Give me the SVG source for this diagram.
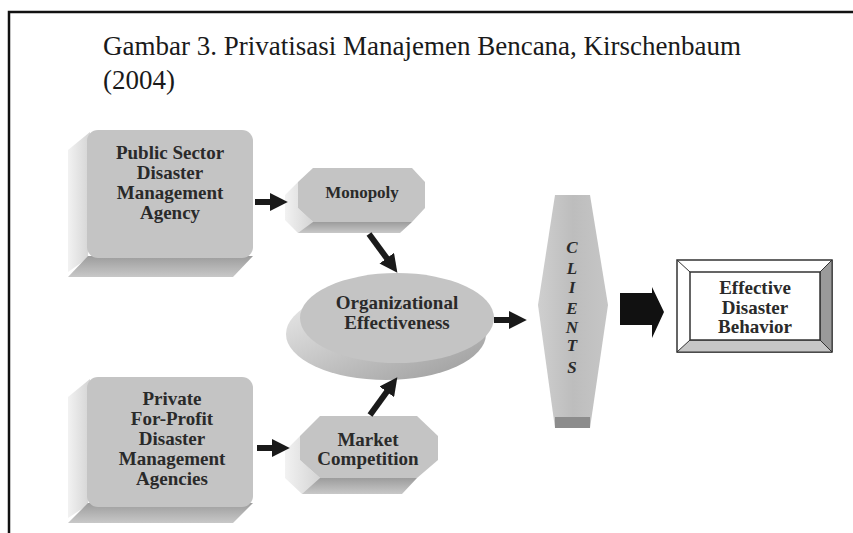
<svg xmlns="http://www.w3.org/2000/svg" width="853" height="533" viewBox="0 0 853 533">
<defs>
<style>
.lbl{font-family:"Liberation Serif","Times New Roman",serif;font-weight:bold;font-size:19px;fill:#2a2a2a;text-anchor:middle}
.face{fill:#c4c4c4}
.side{fill:url(#sideG)}
.bot{fill:url(#botG)}
.conn{stroke:#1a1a1a;stroke-width:6;fill:none;marker-end:url(#ah)}
.title{font-family:"Liberation Serif","Times New Roman",serif;font-size:27px;fill:#1a1a1a}
</style>
<linearGradient id="sideG" x1="0" y1="0" x2="1" y2="0">
<stop offset="0" stop-color="#f2f2f2"/><stop offset="1" stop-color="#d4d4d4"/>
</linearGradient>
<linearGradient id="botG" x1="0" y1="0" x2="0" y2="1">
<stop offset="0" stop-color="#9c9c9c"/><stop offset="1" stop-color="#c8c8c8"/>
</linearGradient>
<linearGradient id="diskG" x1="0" y1="0" x2="1" y2="1">
<stop offset="0" stop-color="#eeeeee"/><stop offset="0.45" stop-color="#c8c8c8"/><stop offset="1" stop-color="#9a9a9a"/>
</linearGradient>
<linearGradient id="cliG" x1="0" y1="0" x2="1" y2="0">
<stop offset="0" stop-color="#cfcfcf"/><stop offset="0.5" stop-color="#bdbdbd"/><stop offset="1" stop-color="#c6c6c6"/>
</linearGradient>
<marker id="ah" markerWidth="3" markerHeight="3" refX="1.2" refY="1.5" orient="auto" markerUnits="strokeWidth">
<path d="M0,0 L3,1.5 L0,3 z" fill="#1a1a1a"/>
</marker>
</defs>
<rect width="853" height="533" fill="#ffffff"/>
<path d="M9,533 V12 H853" fill="none" stroke="#111" stroke-width="2.5"/>
<text class="title" x="103" y="55">Gambar 3. Privatisasi Manajemen Bencana, Kirschenbaum</text>
<text class="title" x="103" y="89">(2004)</text>

<g id="public">
<path class="side" d="M90,132 L68,150 L68,272 L88,258 Z"/>
<path class="bot" d="M88,256 L253,256 L233,277 L68,277 Z"/>
<rect class="face" x="87" y="130" width="166" height="128" rx="11"/>
<text class="lbl" x="170" y="159">Public Sector</text>
<text class="lbl" x="170" y="179">Disaster</text>
<text class="lbl" x="170" y="199">Management</text>
<text class="lbl" x="170" y="219">Agency</text>
</g>

<g id="private">
<path class="side" d="M90,379 L68,397 L68,518 L88,505 Z"/>
<path class="bot" d="M88,503 L253,503 L233,523 L68,523 Z"/>
<rect class="face" x="87" y="377" width="166" height="130" rx="11"/>
<text class="lbl" x="172" y="405">Private</text>
<text class="lbl" x="172" y="425">For-Profit</text>
<text class="lbl" x="172" y="445">Disaster</text>
<text class="lbl" x="172" y="465">Management</text>
<text class="lbl" x="172" y="485">Agencies</text>
</g>

<g id="monopoly">
<path class="side" d="M298,182 L285,195 L285,220 L298,233 L310,233 L313,222 L298,208 Z"/>
<path class="bot" d="M313,222 L412,222 L400,233 L298,233 Z"/>
<polygon class="face" points="313,168 412,168 425,182 425,208 412,222 313,222 298,208 298,182"/>
<text class="lbl" x="362" y="198" style="font-size:17px">Monopoly</text>
</g>

<g id="market">
<path class="side" d="M300,436 L285,451 L285,478 L302,494 L318,494 L320,478 L300,460 Z"/>
<path class="bot" d="M320,478 L417,478 L402,494 L302,494 Z"/>
<polygon class="face" points="320,416 417,416 438,436 438,460 417,478 320,478 300,460 300,436"/>
<text class="lbl" x="368" y="446">Market</text>
<text class="lbl" x="368" y="465">Competition</text>
</g>

<g id="org">
<ellipse cx="386" cy="334" rx="100" ry="46" fill="url(#diskG)"/>
<ellipse cx="397" cy="318" rx="97" ry="45" class="face"/>
<text class="lbl" x="397" y="309">Organizational</text>
<text class="lbl" x="397" y="329">Effectiveness</text>
</g>

<g id="clients">
<polygon points="555,195 590,195 608,305 590,428 555,428 538,305" fill="url(#cliG)"/>
<rect x="555" y="417" width="35" height="11" fill="#8c8c8c"/>
<g class="lbl" style="font-style:italic;font-size:17px">
<text x="572" y="253">C</text>
<text x="572" y="274">L</text>
<text x="572" y="293">I</text>
<text x="572" y="314">E</text>
<text x="572" y="333">N</text>
<text x="572" y="351">T</text>
<text x="572" y="373">S</text>
</g>
</g>

<g id="behavior">
<rect x="677" y="260" width="155" height="92" fill="#ffffff" stroke="#333" stroke-width="1.5"/>
<polygon points="820,272 832,260 832,352 820,340" fill="#9a9a9a" stroke="#333" stroke-width="1"/>
<polygon points="690,340 820,340 832,352 677,352" fill="#c6c6c6" stroke="#333" stroke-width="1"/>
<line x1="677" y1="260" x2="690" y2="272" stroke="#333" stroke-width="1"/>
<rect x="690" y="272" width="130" height="68" fill="#ffffff" stroke="#333" stroke-width="1.5"/>
<text class="lbl" x="755" y="294">Effective</text>
<text class="lbl" x="755" y="314">Disaster</text>
<text class="lbl" x="755" y="333">Behavior</text>
</g>

<g id="connectors">
<line class="conn" x1="255" y1="202" x2="277" y2="202"/>
<line class="conn" x1="257" y1="448" x2="279" y2="448"/>
<line class="conn" x1="369" y1="234" x2="391" y2="264"/>
<line class="conn" x1="370" y1="415" x2="391" y2="386"/>
<line class="conn" x1="494" y1="320" x2="516" y2="320"/>
<polygon points="620,293 652,293 652,287 664,312 652,338 652,325 620,325" fill="#111"/>
</g>
</svg>
